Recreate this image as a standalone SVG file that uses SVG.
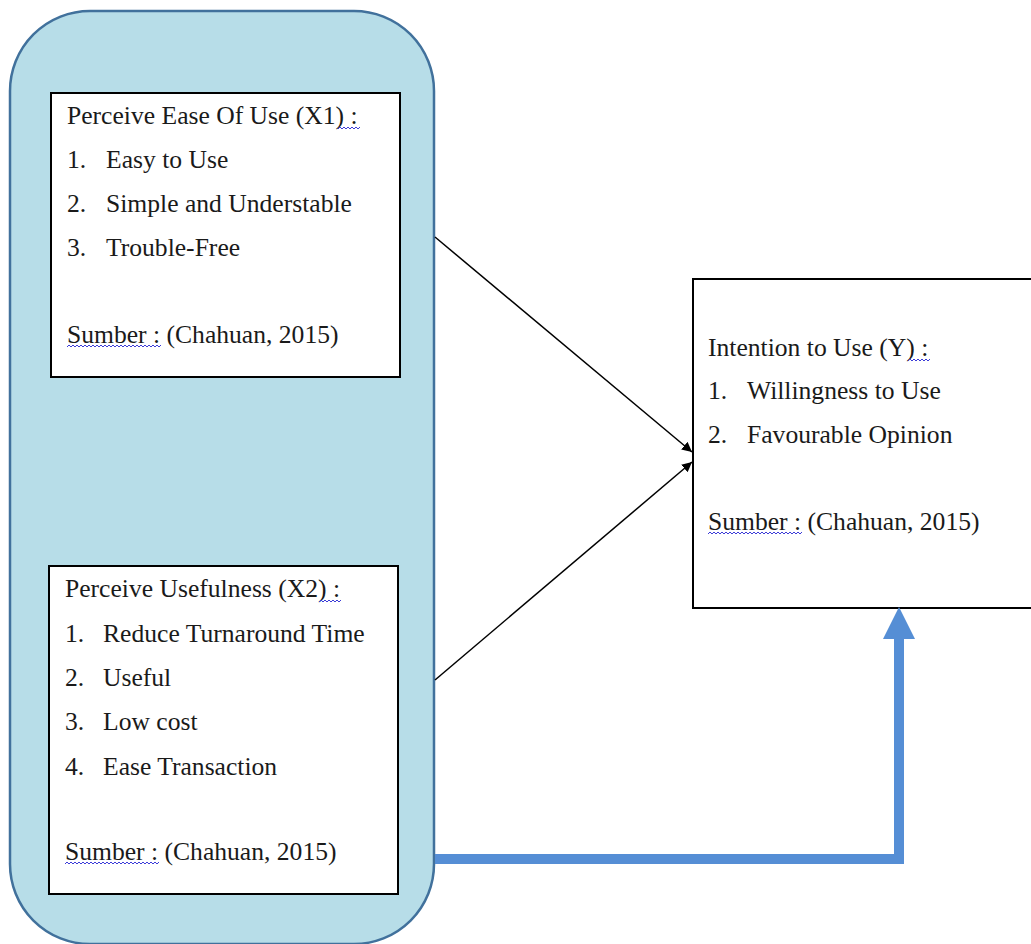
<svg xmlns="http://www.w3.org/2000/svg" width="1031" height="944" viewBox="0 0 1031 944">
<style>
.t{font-family:"Liberation Serif","Times New Roman",serif;font-size:25.6px;fill:#1a1a1a}
.box{fill:#fff;stroke:#000;stroke-width:2}
.sq{fill:none;stroke:#3b3bd8;stroke-width:1}
</style>
<defs>
<marker id="ah" viewBox="0 0 10 10" refX="10" refY="5" markerWidth="10" markerHeight="10" markerUnits="userSpaceOnUse" orient="auto">
<path d="M0,0 L10,5 L0,10 z" fill="#000"/>
</marker>
<path id="sqs" class="sq" d="M0,0 l2,-2 l2,2 l2,-2 l2,2 l2,-2 l2,2 l2,-2 l2,2 l2,-2 l2,2 l2,-2"/>
<path id="sql" class="sq" d="M0,0 l2,-2 l2,2 l2,-2 l2,2 l2,-2 l2,2 l2,-2 l2,2 l2,-2 l2,2 l2,-2 l2,2 l2,-2 l2,2 l2,-2 l2,2 l2,-2 l2,2 l2,-2 l2,2 l2,-2 l2,2 l2,-2 l2,2 l2,-2 l2,2 l2,-2 l2,2 l2,-2 l2,2 l2,-2 l2,2 l2,-2 l2,2 l2,-2 l2,2 l2,-2 l2,2 l2,-2 l2,2 l2,-2 l2,2 l2,-2 l2,2 l2,-2 l2,2 l2,-2"/>
</defs>
<rect width="1031" height="944" fill="#fff"/>
<g id="group">
<rect x="10" y="11" width="424" height="933" rx="80" ry="80" fill="#b7dde8" stroke="#41719c" stroke-width="2.5"/>
</g>
<g id="x1">
<rect class="box" x="51" y="93" width="349" height="284"/>
<text class="t" x="67" y="124">Perceive Ease Of Use (X1) :</text>
<text class="t" x="67" y="168">1.</text><text class="t" x="106" y="168">Easy to Use</text>
<text class="t" x="67" y="212">2.</text><text class="t" x="106" y="212">Simple and Understable</text>
<text class="t" x="67" y="256">3.</text><text class="t" x="106" y="256">Trouble-Free</text>
<text class="t" x="67" y="343">Sumber : (Chahuan, 2015)</text>
<use href="#sqs" x="338" y="129"/>
<use href="#sql" x="67" y="347"/>
</g>
<g id="x2">
<rect class="box" x="49" y="566" width="349" height="328"/>
<text class="t" x="65" y="597">Perceive Usefulness (X2) :</text>
<text class="t" x="65" y="642">1.</text><text class="t" x="103" y="642">Reduce Turnaround Time</text>
<text class="t" x="65" y="686">2.</text><text class="t" x="103" y="686">Useful</text>
<text class="t" x="65" y="730">3.</text><text class="t" x="103" y="730">Low cost</text>
<text class="t" x="65" y="775">4.</text><text class="t" x="103" y="775">Ease Transaction</text>
<text class="t" x="65" y="860">Sumber : (Chahuan, 2015)</text>
<use href="#sqs" x="319" y="602"/>
<use href="#sql" x="65" y="864"/>
</g>
<g id="y">
<rect class="box" x="693" y="279" width="345" height="329"/>
<text class="t" x="708" y="356">Intention to Use (Y) :</text>
<text class="t" x="708" y="399">1.</text><text class="t" x="747" y="399">Willingness to Use</text>
<text class="t" x="708" y="443">2.</text><text class="t" x="747" y="443">Favourable Opinion</text>
<text class="t" x="708" y="530">Sumber : (Chahuan, 2015)</text>
<use href="#sqs" x="908" y="361"/>
<use href="#sql" x="708" y="534"/>
</g>
<g id="connectors">
<line x1="435" y1="237" x2="692" y2="452" stroke="#000" stroke-width="1.5" marker-end="url(#ah)"/>
<line x1="435" y1="680" x2="692" y2="462" stroke="#000" stroke-width="1.5" marker-end="url(#ah)"/>
<polyline points="435,859 899,859 899,636" fill="none" stroke="#558ed5" stroke-width="10" stroke-linejoin="miter"/>
<path d="M883,639 L899,607 L915,639 z" fill="#558ed5"/>
</g>
</svg>
